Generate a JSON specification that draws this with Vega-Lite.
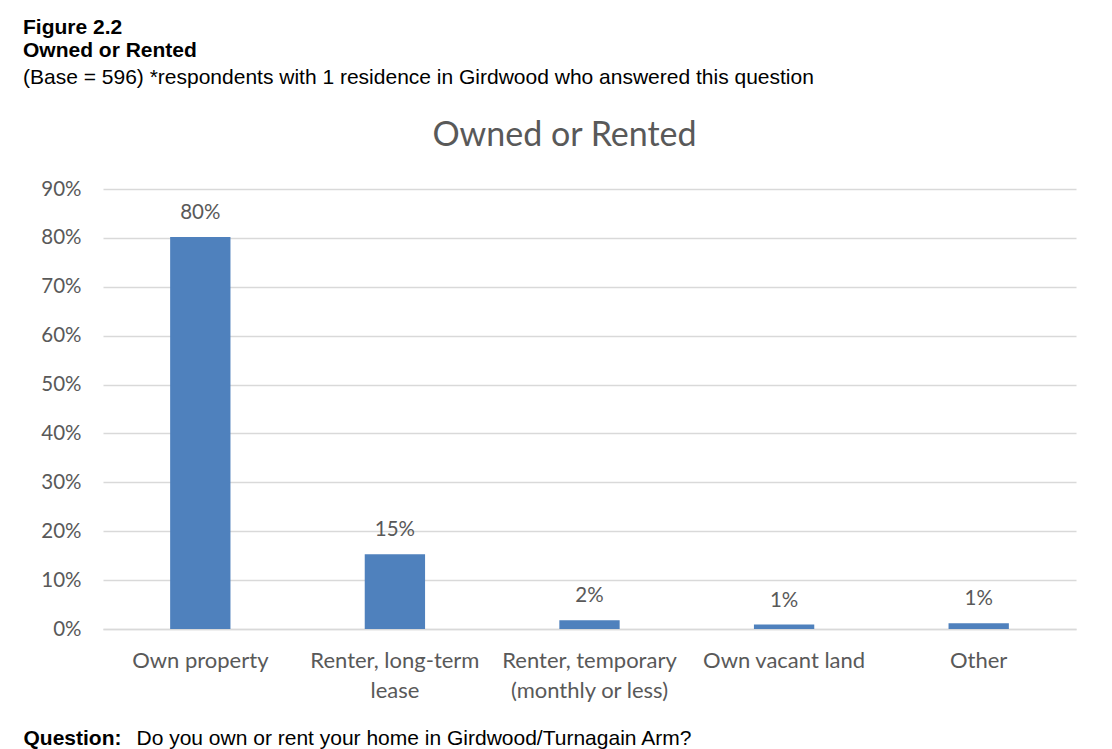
{
  "$schema": "https://vega.github.io/schema/vega-lite/v6.json",
  "width": 973,
  "height": 440,
  "autosize": {"type": "none"},
  "padding": {"left": 103, "top": 189, "right": 36, "bottom": 120},
  "background": "white",
  "title": {
    "text": ["Figure 2.2", "Owned or Rented"],
    "subtitle": "(Base = 596) *respondents with 1 residence in Girdwood who answered this question",
    "anchor": "start",
    "frame": "group",
    "font": "Liberation Sans",
    "fontSize": 21,
    "fontWeight": "bold",
    "color": "black",
    "lineHeight": 23,
    "subtitleFont": "Liberation Sans",
    "subtitleFontSize": 21,
    "subtitleFontWeight": "normal",
    "subtitleColor": "black",
    "subtitlePadding": 6,
    "offset": 30,
    "dx": -80
  },
  "data": {
    "values": [
      {"category": "Own property", "share": 0.802},
      {"category": "Renter, long-term lease", "share": 0.153},
      {"category": "Renter, temporary (monthly or less)", "share": 0.018},
      {"category": "Own vacant land", "share": 0.009},
      {"category": "Other", "share": 0.012}
    ]
  },
  "layer": [
    {
      "mark": {"type": "bar", "color": "#4f81bd"},
      "encoding": {
        "x": {
          "field": "category",
          "type": "nominal",
          "sort": null,
          "scale": {"paddingInner": 0.69, "paddingOuter": 0.345},
          "axis": {
            "orient": "bottom",
            "labelAngle": 0,
            "labelFont": "Lato",
            "labelFontSize": 22,
            "labelColor": "#595959",
            "labelPadding": 21,
            "labelLineHeight": 30,
            "labelExpr": "datum.value == 'Renter, long-term lease' ? ['Renter, long-term', 'lease'] : datum.value == 'Renter, temporary (monthly or less)' ? ['Renter, temporary', '(monthly or less)'] : datum.value",
            "ticks": false,
            "tickSize": 0,
            "domain": true,
            "domainColor": "#d9d9d9",
            "domainWidth": 1.3,
            "grid": false,
            "title": "Question:",
            "titleFont": "Liberation Sans",
            "titleFontSize": 21,
            "titleFontWeight": "bold",
            "titleColor": "black",
            "titleAlign": "left",
            "titleBaseline": "alphabetic",
            "titleX": -80,
            "titleY": 115
          }
        },
        "y": {
          "field": "share",
          "type": "quantitative",
          "scale": {"domain": [0, 0.9]},
          "axis": {
            "format": ".0%",
            "values": [0, 0.1, 0.2, 0.3, 0.4, 0.5, 0.6, 0.7, 0.8, 0.9],
            "labelFont": "Lato",
            "labelFontSize": 20.5,
            "labelColor": "#595959",
            "labelPadding": 22,
            "ticks": false,
            "tickSize": 0,
            "domain": false,
            "grid": true,
            "gridColor": "#d9d9d9",
            "gridWidth": 1.3,
            "title": "Do you own or rent your home in Girdwood/Turnagain Arm?",
            "titleFont": "Liberation Sans",
            "titleFontSize": 21,
            "titleFontWeight": "normal",
            "titleColor": "black",
            "titleAngle": 0,
            "titleAlign": "left",
            "titleBaseline": "alphabetic",
            "titleX": 33,
            "titleY": 555
          }
        }
      }
    },
    {
      "mark": {"type": "text", "font": "Lato", "fontSize": 20.5, "color": "#595959", "baseline": "alphabetic", "dy": -18},
      "encoding": {
        "x": {
          "field": "category",
          "type": "nominal",
          "sort": null,
          "axis": {
            "orient": "top",
            "labels": false,
            "ticks": false,
            "domain": false,
            "grid": false,
            "title": "Owned or Rented",
            "titleFont": "Lato",
            "titleFontSize": 34,
            "titleFontWeight": "normal",
            "titleColor": "#595959",
            "titleAlign": "center",
            "titleBaseline": "alphabetic",
            "titleX": 461,
            "titleY": -44
          }
        },
        "y": {"field": "share", "type": "quantitative"},
        "text": {"field": "share", "type": "quantitative", "format": ".0%"}
      }
    }
  ],
  "resolve": {"axis": {"x": "independent"}},
  "config": {"view": {"stroke": null}}
}
